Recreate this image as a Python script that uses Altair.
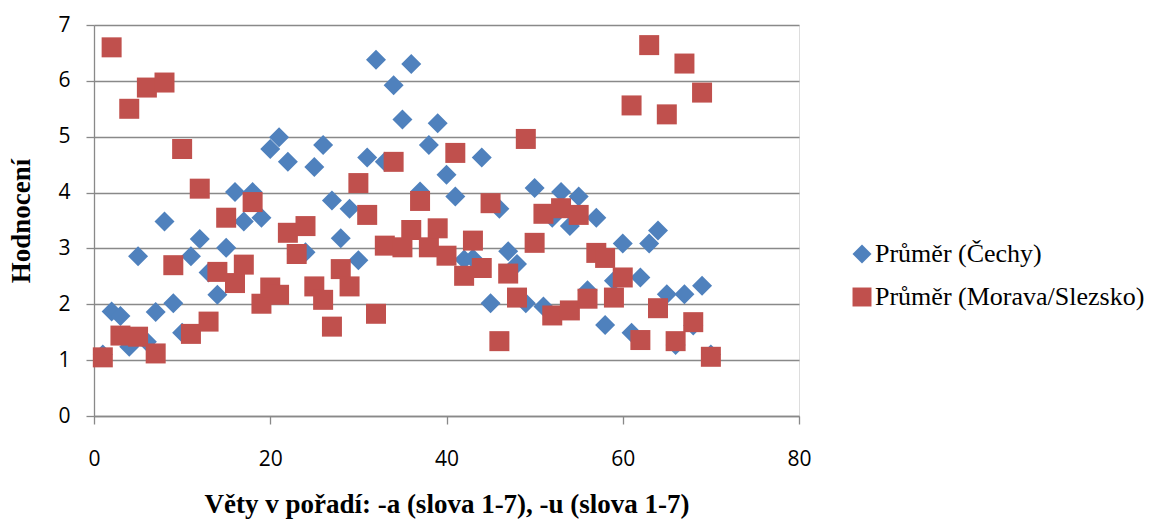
import altair as alt
import pandas as pd

x_values = list(range(1, 71))

cechy = [1.10, 1.87, 1.79, 1.24, 2.86, 1.33, 1.86, 3.48, 2.02, 1.49,
         2.86, 3.17, 2.57, 2.17, 3.01, 4.01, 3.48, 4.01, 3.55, 4.78,
         4.99, 4.55, 2.90, 2.93, 4.46, 4.85, 3.86, 3.18, 3.71, 2.79,
         4.63, 6.38, 4.55, 5.92, 5.31, 6.30, 4.02, 4.85, 5.24, 4.32,
         3.93, 2.80, 2.82, 4.63, 2.02, 3.71, 2.95, 2.72, 2.02, 4.08,
         1.96, 3.55, 4.01, 3.40, 3.93, 2.25, 3.55, 1.63, 2.42, 3.09,
         1.49, 2.48, 3.09, 3.32, 2.18, 1.27, 2.18, 1.62, 2.33, 1.10]

morava = [1.05, 6.60, 1.44, 5.50, 1.42, 5.88, 1.12, 5.97, 2.70, 4.78,
          1.47, 4.07, 1.69, 2.58, 3.55, 2.38, 2.71, 3.83, 2.01, 2.30,
          2.17, 3.28, 2.90, 3.40, 2.32, 2.08, 1.60, 2.63, 2.32, 4.17,
          3.60, 1.83, 3.05, 4.55, 3.02, 3.33, 3.85, 3.02, 3.36, 2.87,
          4.71, 2.51, 3.14, 2.65, 3.81, 1.34, 2.55, 2.12, 4.96, 3.10,
          3.62, 1.80, 3.72, 1.89, 3.60, 2.10, 2.92, 2.83, 2.12, 2.48,
          5.56, 1.36, 6.64, 1.93, 5.40, 1.34, 6.31, 1.68, 5.79, 1.06]

series_names = ["Průměr (Čechy)", "Průměr (Morava/Slezsko)"]
series_colors = ["#4F81BD", "#C0504D"]
series_shapes = ["diamond", "square"]

x_ticks = [0, 20, 40, 60, 80]
y_ticks = [0, 1, 2, 3, 4, 5, 6, 7]

rows = []
for xv, v in zip(x_values, cechy):
    rows.append({"x": xv, "y": v, "s": series_names[0], "o": 0})
for xv, v in zip(x_values, morava):
    rows.append({"x": xv, "y": v, "s": series_names[1], "o": 1})
df = pd.DataFrame(rows)

GRAY = "#898989"
SANS = "Open Sans"
SERIF = "Liberation Serif"

chart = alt.Chart(df).mark_point(filled=True, opacity=1, size=400).encode(
    x=alt.X("x:Q",
            scale=alt.Scale(domain=[0, 80], nice=False, zero=False),
            axis=alt.Axis(values=x_ticks, grid=False, title="Věty v pořadí: -a (slova 1-7), -u (slova 1-7)",
                          labelFont=SANS, labelFontSize=21, labelPadding=24, labelColor="black",
                          titleFont=SERIF, titleFontSize=27, titleFontWeight="bold", titleColor="black",
                          titlePadding=22, tickSize=8, tickColor=GRAY, domainColor=GRAY,
                          tickWidth=1.3, domainWidth=1.3, labelFlush=False)),
    y=alt.Y("y:Q",
            scale=alt.Scale(domain=[0, 7], nice=False),
            axis=alt.Axis(values=y_ticks, grid=True, gridColor=GRAY, gridWidth=1.3, title="Hodnocení",
                          labelFont=SANS, labelFontSize=21, labelPadding=16, labelColor="black",
                          titleFont=SERIF, titleFontSize=27, titleFontWeight="bold", titleColor="black",
                          titlePadding=22, tickSize=8, tickColor=GRAY, domainColor=GRAY,
                          tickWidth=1.3, domainWidth=1.3, labelFlush=False)),
    color=alt.Color("s:N", scale=alt.Scale(domain=series_names, range=series_colors),
                    legend=alt.Legend(title=None, orient="none", legendX=755, legendY=216,
                                      labelFont=SERIF, labelFontSize=26, labelColor="black",
                                      labelLimit=0,
                                      symbolSize=360, rowPadding=17, labelOffset=0,
                                      symbolStrokeWidth=0)),
    shape=alt.Shape("s:N", scale=alt.Scale(domain=series_names, range=series_shapes)),
    order=alt.Order("o:Q"),
).properties(
    width=705, height=391,
    autosize=alt.AutoSizeParams(type="none"),
    padding={"left": 94, "top": 25, "right": 353, "bottom": 106},
).configure_view(strokeWidth=0).configure(background="white")

chart.save("out.html", embed_options={"renderer": "svg", "actions": False})
